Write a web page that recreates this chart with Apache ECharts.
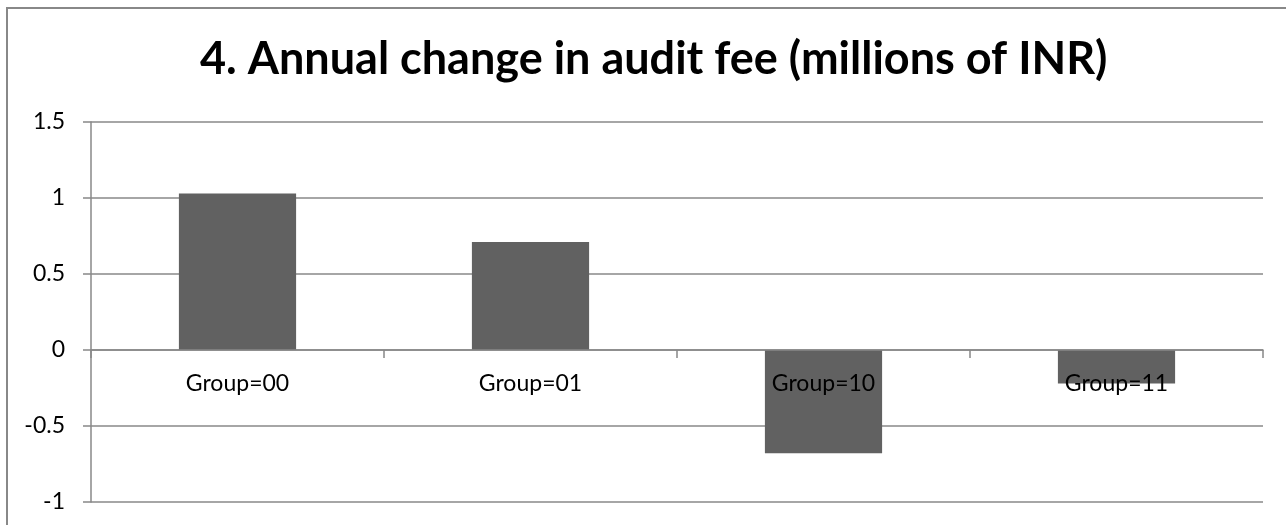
<!DOCTYPE html>
<html>
<head>
<meta charset="utf-8">
<script src="https://cdn.jsdelivr.net/npm/echarts@6/dist/echarts.min.js"></script>
<style>
  html, body { margin: 0; padding: 0; background: #ffffff; }
  #chart { width: 1286px; height: 525px; }
</style>
</head>
<body>
<div id="chart"></div>
<script>
// Annual change in audit fee per group, millions of INR
const categories = ['Group=00', 'Group=01', 'Group=10', 'Group=11'];
const feeChange = [1.03, 0.71, -0.68, -0.22];
const yTicks = { min: -1, max: 1.5, interval: 0.5 };

const gray = '#888888';
const font = 'Lato, "Open Sans", sans-serif';

const gridTop = 122;
const gridBottom = 23;
const chartHeight = 525;

// place the category axis on the zero line of the value axis
const plotHeight = chartHeight - gridTop - gridBottom;
const zeroOffset = -plotHeight * (0 - yTicks.min) / (yTicks.max - yTicks.min);

const chart = echarts.init(document.getElementById('chart'), null, { renderer: 'canvas' });

chart.setOption({
  backgroundColor: '#ffffff',
  animation: false,
  title: {
    text: '4. Annual change in audit fee (millions of INR)',
    left: 195,
    top: 32,
    textStyle: { fontFamily: font, fontWeight: 'bold', fontSize: 45, color: '#000000' }
  },
  graphic: [{
    type: 'rect',
    shape: { x: 7, y: 8, width: 1400, height: 700 },
    style: { fill: 'none', stroke: gray, lineWidth: 2 },
    silent: true
  }],
  grid: { left: 91, right: 23, top: gridTop, bottom: gridBottom, containLabel: false, outerBoundsMode: 'none' },
  xAxis: {
    type: 'category',
    data: categories,
    position: 'bottom',
    offset: zeroOffset,
    z: 5,
    axisLine: { onZero: false, lineStyle: { color: gray, width: 1.5 } },
    axisTick: { show: true, inside: false, length: 8, lineStyle: { color: gray, width: 1.5 } },
    axisLabel: { color: '#000000', fontFamily: font, fontSize: 23, margin: 22 },
    splitLine: { show: false }
  },
  yAxis: {
    type: 'value',
    min: yTicks.min,
    max: yTicks.max,
    interval: yTicks.interval,
    axisLine: { show: true, lineStyle: { color: gray, width: 1.5 } },
    axisTick: { show: true, inside: false, length: 8, lineStyle: { color: gray, width: 1.5 } },
    axisLabel: { color: '#000000', fontFamily: font, fontSize: 23, margin: 26 },
    splitLine: { show: true, lineStyle: { color: gray, width: 1.5 } }
  },
  series: [{
    type: 'bar',
    data: feeChange,
    barWidth: '40%',
    itemStyle: { color: '#616161' }
  }]
});
</script>
</body>
</html>
